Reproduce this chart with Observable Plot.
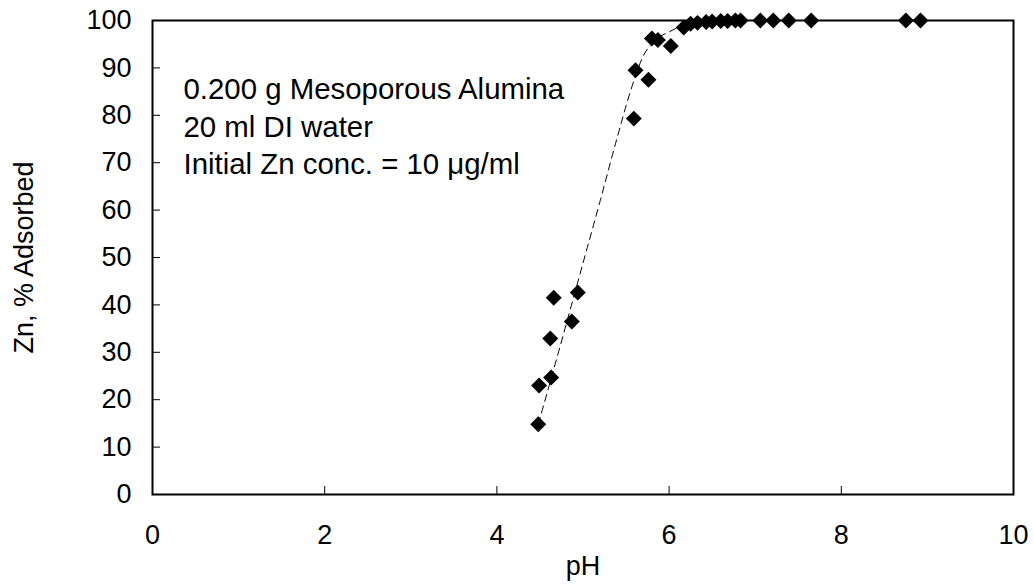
<!DOCTYPE html>
<html><head><meta charset="utf-8">
<script src="https://cdn.jsdelivr.net/npm/d3@7"></script>
<script src="https://cdn.jsdelivr.net/npm/@observablehq/plot@0.6"></script>
<style>
html,body{margin:0;padding:0;background:#fff;}
#chart svg{display:block;}
</style></head><body><div id="chart"></div>
<script>
// Measured points
const pHValues = [4.48, 4.49, 4.63, 4.62, 4.66, 4.87, 4.94, 5.59, 5.61, 5.76, 5.80, 5.87, 6.02,
  6.17, 6.25, 6.33, 6.43, 6.50, 6.60, 6.68, 6.77, 6.83, 7.06, 7.21, 7.39, 7.65, 8.75, 8.92];
const adsorbedValues = [14.8, 23.0, 24.7, 32.9, 41.5, 36.5, 42.6, 79.3, 89.5, 87.5, 96.2, 95.9, 94.6,
  98.5, 99.3, 99.5, 99.7, 99.8, 99.9, 99.9, 100, 100, 100, 100, 100, 100, 100, 100];
// Dashed trend line
const trendPH = [4.48, 4.60, 4.80, 5.00, 5.20, 5.40, 5.55, 5.70, 5.85, 6.00, 6.17, 6.40, 6.80, 8.92];
const trendAdsorbed = [14.8, 22.5, 35.6, 48.8, 62.0, 75.5, 85.0, 92.5, 96.0, 97.6, 99.0, 99.7, 100, 100];
// Ticks and text
const xTicks = [0, 2, 4, 6, 8, 10];
const yTicks = [0, 10, 20, 30, 40, 50, 60, 70, 80, 90, 100];
const xLabel = "pH";
const yLabel = "Zn, % Adsorbed";
const annotationLines = ["0.200 g Mesoporous Alumina", "20 ml DI water", "Initial Zn conc. = 10 μg/ml"];

const points = pHValues.map((x, i) => ({x, y: adsorbedValues[i]}));
const trend = trendPH.map((x, i) => ({x, y: trendAdsorbed[i]}));

const chart = Plot.plot({
  width: 1034, height: 586,
  marginLeft: 152, marginRight: 21, marginTop: 20, marginBottom: 92,
  x: {domain: [0, 10]},
  y: {domain: [0, 100]},
  style: {fontFamily: "'Liberation Sans', Arial, sans-serif", fontSize: "27px", color: "#000", background: "#fff"},
  marks: [
    Plot.axisX(xTicks, {tickSize: -8, tickFormat: () => "", label: null, stroke: "#000"}),
    Plot.axisX(xTicks, {tickSize: 0, tickPadding: 30, label: null}),
    Plot.axisY(yTicks, {tickSize: -8, tickFormat: () => "", label: null, stroke: "#000"}),
    Plot.axisY(yTicks, {tickSize: 0, tickPadding: 21, label: null}),
    Plot.line(trend, {x: "x", y: "y", curve: "monotone-x", stroke: "#000", strokeWidth: 1, strokeDasharray: "7,5"}),
    Plot.dot(points, {x: "x", y: "y", symbol: "diamond2", r: 7.2, fill: "#000", stroke: null}),
    Plot.frame({stroke: "#000", strokeWidth: 2}),
    Plot.text([xLabel], {frameAnchor: "bottom", dy: 61, lineAnchor: "top", fill: "#000"}),
    Plot.text([yLabel], {frameAnchor: "left", textAnchor: "middle", rotate: -90, dx: -128, fill: "#000"}),
    Plot.text([annotationLines.join("\n")], {frameAnchor: "top-left", dx: 31, dy: 52, textAnchor: "start", lineAnchor: "top", lineHeight: 1.28, fontSize: 29.4, fill: "#000"})
  ]
});
document.getElementById("chart").appendChild(chart);
</script>
</body></html>
